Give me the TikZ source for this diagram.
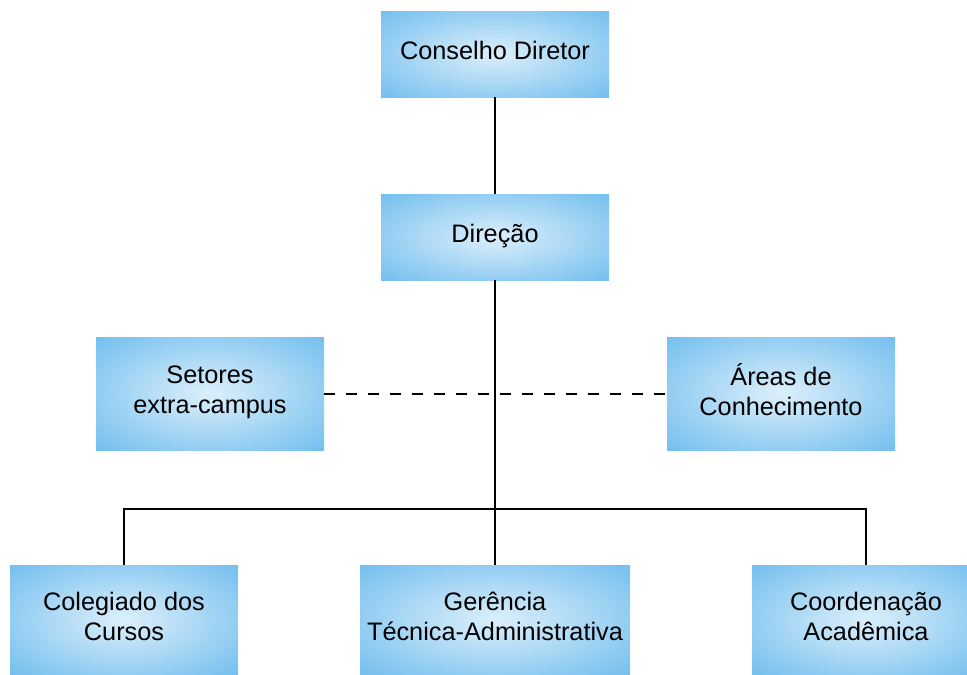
\documentclass[tikz,border=0pt]{standalone}
\usepackage{fontspec}
\setmainfont{Liberation Sans}
\definecolor{boxin}{RGB}{220,239,251}
\definecolor{boxout}{RGB}{84,176,234}
\pgfdeclareradialshading{boxshade}{\pgfpoint{0bp}{0bp}}{color(0bp)=(boxin); color(46bp)=(boxout); color(72bp)=(boxout)}
\newcommand\ls{\rule[-7pt]{0pt}{23pt}}
\begin{document}
\begin{tikzpicture}[x=1pt,y=-1pt,
  orgbox/.style={rectangle, shading=boxshade, inner sep=0pt, align=center,
    font=\fontsize{25.3}{30}\selectfont, text=black},
  link/.style={line width=2.4pt, draw=black},
  dlink/.style={line width=2pt, draw=black, dash pattern=on 11pt off 11pt}]
\useasboundingbox (0,0) rectangle (967,675);
\node[orgbox, minimum width=228pt, minimum height=86pt] (cons) at (495,54) {\ls Conselho Diretor};
\node[orgbox, minimum width=228pt, minimum height=86pt] (dir) at (495,237) {\ls Direção};
\node[orgbox, minimum width=228pt, minimum height=113pt] (set) at (210,393.5) {\ls Setores\\\ls extra-campus};
\node[orgbox, minimum width=228pt, minimum height=113pt] (are) at (781,393.5) {\ls Áreas de\\\ls Conhecimento};
\node[orgbox, minimum width=228pt, minimum height=110pt] (col) at (124,620) {\ls Colegiado dos\\\ls Cursos};
\node[orgbox, minimum width=270pt, minimum height=110pt] (ger) at (495,620) {\ls Gerência\\\ls Técnica-Administrativa};
\node[orgbox, minimum width=228pt, minimum height=110pt] (coo) at (866,620) {\ls Coordenação\\\ls Acadêmica};
\coordinate (bus) at (495,509);
\draw[dlink] (set.east) -- (are.west);
\draw[link] (cons.south) -- (dir.north);
\draw[link] (dir.south) -- (ger.north);
\draw[link] (col.north) |- (bus) -| (coo.north);
\end{tikzpicture}
\end{document}
